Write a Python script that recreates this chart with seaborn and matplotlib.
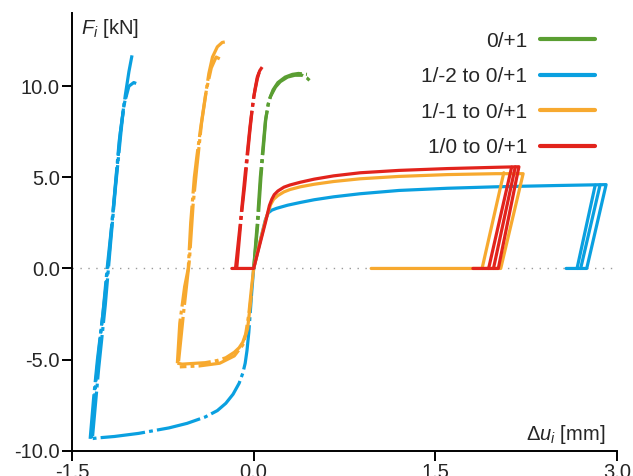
import matplotlib
matplotlib.use("Agg")
import matplotlib.pyplot as plt
from matplotlib.lines import Line2D
import seaborn as sns

# ---- series labels and colours ----
labels = ["0/+1", "1/-2 to 0/+1", "1/-1 to 0/+1", "1/0 to 0/+1"]
colors = ["#5a9e32", "#0aa0e0", "#f7a92f", "#e2231c"]

# ---- 0/+1 (green): loading branches from the origin ----
green_rise_1_x = [0.0, 0.03, 0.055, 0.075, 0.097, 0.12, 0.14, 0.18, 0.22, 0.28, 0.34, 0.40, 0.44, 0.48]
green_rise_1_y = [0.0, 2.5, 5.0, 6.5, 8.1, 9.0, 9.45, 9.95, 10.25, 10.5, 10.6, 10.6, 10.45, 10.2]
green_rise_2_x = [0.0, 0.035, 0.06, 0.08, 0.10, 0.125, 0.16, 0.20, 0.26, 0.32, 0.37, 0.44]
green_rise_2_y = [0.0, 2.5, 5.0, 6.6, 8.2, 9.2, 9.8, 10.2, 10.5, 10.65, 10.7, 10.65]

# ---- 1/-2 to 0/+1 (blue) ----
blue_comp_x = [0.0, -0.015, -0.028, -0.04, -0.055, -0.07, -0.09, -0.12, -0.17, -0.23, -0.30,
               -0.40, -0.55, -0.70, -0.95, -1.15, -1.29, -1.35]
blue_comp_y = [0.0, -1.2, -2.4, -3.5, -4.5, -5.2, -5.75, -6.3, -6.9, -7.4, -7.8,
               -8.15, -8.5, -8.75, -9.05, -9.22, -9.3, -9.35]
blue_rise_1_x = [-1.35, -1.32, -1.29, -1.245, -1.21, -1.17, -1.135, -1.10, -1.06, -1.03, -1.0]
blue_rise_1_y = [-9.35, -7.0, -5.0, -2.5, 0.0, 2.5, 5.0, 7.5, 9.5, 10.8, 11.85]
blue_rise_2_x = [-1.34, -1.30, -1.27, -1.22, -1.19, -1.15, -1.11, -1.07, -1.03, -0.99, -0.97]
blue_rise_2_y = [-9.3, -6.0, -4.0, -1.0, 1.0, 4.0, 7.0, 9.0, 10.0, 10.2, 10.15]
blue_rise_3_x = [-1.33, -1.28, -1.225, -1.18, -1.14, -1.10, -1.075, -1.05]
blue_rise_3_y = [-9.2, -5.5, -2.0, 1.5, 4.5, 7.2, 8.8, 9.6]
blue_main_x = [0.0, 0.05, 0.096, 0.12, 0.15, 0.19, 0.28, 0.385, 0.50, 0.66, 0.88, 1.2, 1.6,
               2.0, 2.5, 2.91, 2.75, 2.58]
blue_main_y = [0.0, 1.4, 2.65, 3.05, 3.2, 3.3, 3.47, 3.62, 3.77, 3.93, 4.1, 4.28, 4.4,
               4.48, 4.55, 4.6, 0.0, 0.0]
blue_drop_x = [[2.86, 2.70], [2.82, 2.67]]
blue_drop_y = [[4.58, 0.0], [4.57, 0.0]]

# ---- 1/-1 to 0/+1 (orange) ----
orange_comp_1_x = [0.0, -0.02, -0.04, -0.066, -0.09, -0.12, -0.16, -0.23, -0.30, -0.40, -0.59, -0.63]
orange_comp_1_y = [0.0, -1.2, -2.5, -3.6, -4.05, -4.35, -4.6, -4.9, -5.05, -5.17, -5.25, -5.2]
orange_comp_2_x = [-0.02, -0.05, -0.09, -0.16, -0.28, -0.45, -0.61]
orange_comp_2_y = [-1.5, -3.3, -4.2, -4.8, -5.2, -5.35, -5.4]
orange_rise_1_x = [-0.63, -0.61, -0.57, -0.54, -0.52, -0.49, -0.47, -0.44, -0.40, -0.37, -0.34, -0.30, -0.26, -0.22]
orange_rise_1_y = [-5.2, -3.0, -1.0, 0.0, 2.5, 5.0, 6.1, 7.6, 9.4, 10.7, 11.6, 12.16, 12.4, 12.45]
orange_rise_2_x = [-0.62, -0.58, -0.53, -0.50, -0.47, -0.43, -0.39, -0.35, -0.31, -0.28]
orange_rise_2_y = [-5.1, -2.5, 0.5, 3.5, 5.5, 8.0, 9.8, 11.0, 11.6, 11.5]
orange_main_x = [0.0, 0.05, 0.10, 0.14, 0.165, 0.20, 0.25, 0.30, 0.385, 0.50, 0.66, 0.88, 1.2,
                 1.6, 2.0, 2.225, 2.04, 0.97]
orange_main_y = [0.0, 1.4, 2.7, 3.5, 3.8, 4.0, 4.2, 4.33, 4.48, 4.62, 4.77, 4.92, 5.05,
                 5.15, 5.2, 5.2, 0.0, 0.0]
orange_drop_x = [[2.065, 1.886]]
orange_drop_y = [[5.25, 0.0]]

# ---- 1/0 to 0/+1 (red) ----
red_rise_1_x = [-0.14, -0.12, -0.10, -0.075, -0.055, -0.035, -0.013, 0.01, 0.03, 0.05, 0.07]
red_rise_1_y = [0.0, 1.5, 3.0, 4.5, 5.9, 7.3, 8.7, 9.8, 10.5, 10.85, 11.05]
red_rise_2_x = [-0.15, -0.11, -0.07, -0.03, 0.0, 0.03, 0.045]
red_rise_2_y = [0.0, 2.5, 5.2, 7.8, 9.4, 10.4, 10.75]
red_main_x = [-0.18, 0.0, 0.05, 0.10, 0.13, 0.15, 0.17, 0.20, 0.25, 0.30, 0.385, 0.50, 0.66,
              0.88, 1.2, 1.6, 2.0, 2.19, 2.02, 1.81]
red_main_y = [0.0, 0.0, 1.3, 2.6, 3.45, 3.8, 4.05, 4.25, 4.46, 4.58, 4.73, 4.9, 5.08,
              5.25, 5.38, 5.48, 5.55, 5.58, 0.0, 0.0]
red_drop_x = [[2.16, 1.98], [2.13, 1.94]]
red_drop_y = [[5.57, 0.0], [5.56, 0.0]]

# ---- axis ticks ----
xticks = [-1.5, 0.0, 1.5, 3.0]
xtick_labels = ["-1.5", "0.0", "1.5", "3.0"]
yticks = [-10.0, -5.0, 0.0, 5.0, 10.0]
ytick_labels = ["-10.0", "-5.0", "0.0", "5.0", "10.0"]

sns.set_style("ticks")
plt.rcParams["font.family"] = ["Liberation Sans", "DejaVu Sans"]
plt.rcParams["mathtext.fontset"] = "custom"
plt.rcParams["mathtext.rm"] = "Liberation Sans"
plt.rcParams["mathtext.it"] = "Liberation Sans:italic"

fig = plt.figure(figsize=(6.33, 4.76), dpi=100)
ax = fig.add_axes([72 / 633, 25.3 / 476, 545 / 633, 437.4 / 476])

LW = 2.3
DASHDOT = (0, (14, 1.3, 1.2, 1.3))


def draw(xs, ys, color, ls):
    sns.lineplot(x=xs, y=ys, sort=False, estimator=None, color=color,
                 lw=LW, linestyle=ls, ax=ax, legend=False)


# zero-force reference
ax.axhline(0.0, color="#9a9a9a", lw=1.0, linestyle=(0, (1, 4.7)), zorder=0)

g, b, o, r = colors

# green
draw(green_rise_1_x, green_rise_1_y, g, DASHDOT)
draw(green_rise_2_x, green_rise_2_y, g, DASHDOT)

# blue
draw(blue_comp_x, blue_comp_y, b, DASHDOT)
draw(blue_rise_1_x, blue_rise_1_y, b, DASHDOT)
draw(blue_rise_2_x, blue_rise_2_y, b, DASHDOT)
draw(blue_rise_3_x, blue_rise_3_y, b, DASHDOT)
draw(blue_main_x, blue_main_y, b, "-")
for xs, ys in zip(blue_drop_x, blue_drop_y):
    draw(xs, ys, b, "-")

# orange
draw(orange_comp_1_x, orange_comp_1_y, o, DASHDOT)
draw(orange_comp_2_x, orange_comp_2_y, o, DASHDOT)
draw(orange_rise_1_x, orange_rise_1_y, o, DASHDOT)
draw(orange_rise_2_x, orange_rise_2_y, o, DASHDOT)
draw(orange_main_x, orange_main_y, o, "-")
for xs, ys in zip(orange_drop_x, orange_drop_y):
    draw(xs, ys, o, "-")

# red
draw(red_rise_1_x, red_rise_1_y, r, DASHDOT)
draw(red_rise_2_x, red_rise_2_y, r, DASHDOT)
draw(red_main_x, red_main_y, r, "-")
for xs, ys in zip(red_drop_x, red_drop_y):
    draw(xs, ys, r, "-")

ax.set_xlim(-1.5, 3.0)
ax.set_ylim(-10.0, 14.0)
ax.set_xticks(xticks)
ax.set_xticklabels(xtick_labels)
ax.set_yticks(yticks)
ax.set_yticklabels(ytick_labels)
ax.tick_params(direction="out", length=7.0, width=1.4, labelsize=14.5, pad=1.8, color="black")
ax.set_xlabel("")
ax.set_ylabel("")
sns.despine(ax=ax)
for side in ("left", "bottom"):
    ax.spines[side].set_linewidth(1.4)
    ax.spines[side].set_color("black")

ax.text(0.0165, 0.966, r"$F_i$ [kN]", transform=ax.transAxes, fontsize=14.5,
        ha="left", va="center")
ax.text(0.978, 0.036, r"$\Delta u_i$ [mm]", transform=ax.transAxes, fontsize=14.5,
        ha="right", va="center")

handles = [Line2D([], [], color=c, lw=3.0) for c in colors]
ax.legend(handles, labels, loc="upper right", bbox_to_anchor=(0.96, 0.958),
          frameon=False, markerfirst=False, fontsize=15, handlelength=2.64,
          handletextpad=0.62, labelspacing=0.79, borderpad=0, borderaxespad=0)

fig.savefig("out.png", dpi=100)
